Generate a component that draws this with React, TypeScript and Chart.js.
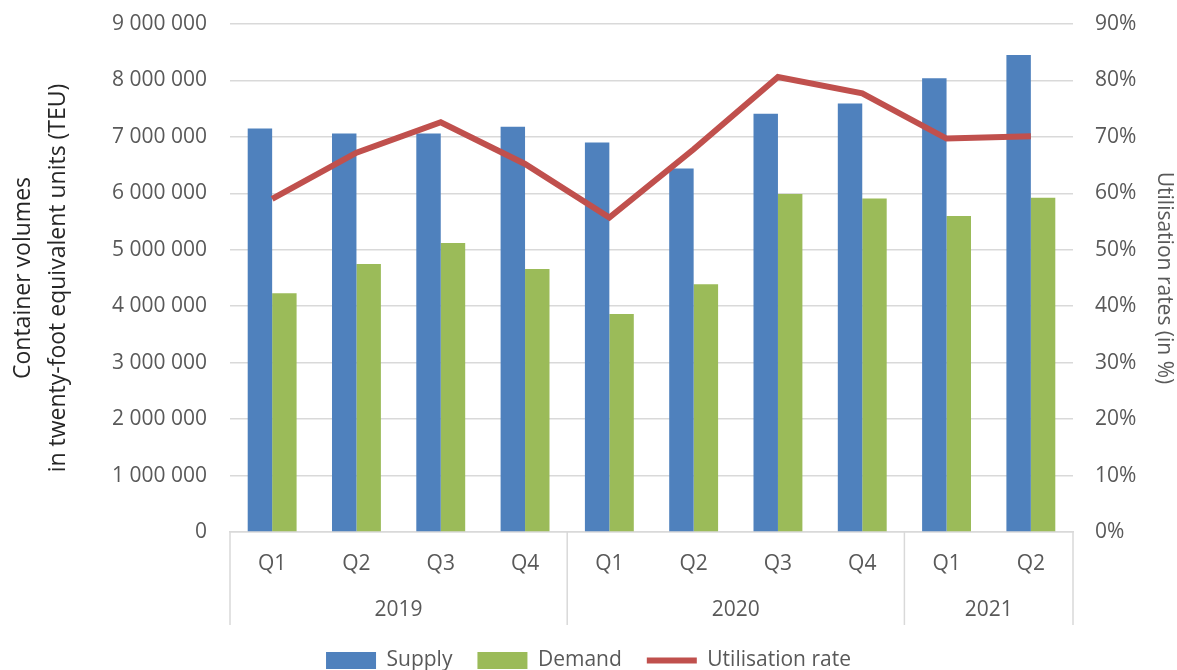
import React, { useEffect, useRef } from "react";
import { Chart, registerables } from "chart.js";

Chart.register(...registerables);

const quarters = ["Q1", "Q2", "Q3", "Q4", "Q1", "Q2", "Q3", "Q4", "Q1", "Q2"];
const years = ["2019", "2020", "2021"];
const yearSpans = [4, 4, 2];
const supply = [7150000, 7060000, 7060000, 7180000, 6900000, 6440000, 7410000, 7590000, 8040000, 8450000];
const demand = [4230000, 4750000, 5120000, 4660000, 3860000, 4390000, 5990000, 5910000, 5600000, 5920000];
const utilisation = [59.0, 67.2, 72.6, 65.2, 55.7, 67.8, 80.6, 77.7, 69.7, 70.1];

const FONT = "'Open Sans', 'DejaVu Sans', sans-serif";
const GREY = "#595959";
const GRID = "#d9d9d9";

const fmtSpace = (v: number) =>
  String(Math.round(v)).replace(/\B(?=(\d{3})+(?!\d))/g, " ");

const yearPlugin = {
  id: "yearGroups",
  afterDraw(chart: any) {
    const x = chart.scales.x;
    const area = chart.chartArea;
    const ctx = chart.ctx;
    const step = x.getPixelForValue(1) - x.getPixelForValue(0);
    const bottom = area.bottom + 93;
    ctx.save();
    ctx.strokeStyle = GRID;
    ctx.lineWidth = 1.5;
    let idx = 0;
    const bounds: number[] = [x.getPixelForValue(0) - step / 2];
    yearSpans.forEach((s) => {
      idx += s;
      bounds.push(x.getPixelForValue(idx - 1) + step / 2);
    });
    bounds.forEach((b) => {
      ctx.beginPath();
      ctx.moveTo(b, area.bottom);
      ctx.lineTo(b, bottom);
      ctx.stroke();
    });
    ctx.fillStyle = GREY;
    ctx.font = `21px ${FONT}`;
    ctx.textAlign = "center";
    ctx.textBaseline = "middle";
    years.forEach((y, i) => {
      ctx.fillText(y, (bounds[i] + bounds[i + 1]) / 2, area.bottom + 78);
    });
    ctx.restore();
  },
};

export default function App() {
  const ref = useRef<HTMLCanvasElement>(null);
  useEffect(() => {
    if (!ref.current) return;
    const chart = new Chart(ref.current, {
      type: "bar",
      data: {
        labels: quarters,
        datasets: [
          {
            label: "Supply",
            data: supply,
            backgroundColor: "#4f81bd",
            yAxisID: "y",
            order: 1,
            categoryPercentage: 0.58,
            barPercentage: 1,
          },
          {
            label: "Demand",
            data: demand,
            backgroundColor: "#9bbb59",
            yAxisID: "y",
            order: 1,
            categoryPercentage: 0.58,
            barPercentage: 1,
          },
          {
            type: "line",
            label: "Utilisation rate",
            data: utilisation,
            borderColor: "#c0504d",
            backgroundColor: "#c0504d",
            borderWidth: 6,
            pointRadius: 0,
            tension: 0,
            yAxisID: "y1",
            order: 0,
          } as any,
        ],
      },
      options: {
        responsive: false,
        animation: false,
        layout: { padding: { top: 24, bottom: -11, left: 0, right: 0 } },
        plugins: {
          tooltip: { enabled: false },
          legend: {
            position: "bottom",
            labels: {
              font: { family: FONT, size: 21 },
              color: GREY,
              usePointStyle: true,
              pointStyleWidth: 50,
              boxHeight: 17,
              padding: 25,
              sort: (a: any, b: any) => a.datasetIndex - b.datasetIndex,
              generateLabels: (c: any) => {
                const items = (Chart.defaults.plugins.legend.labels as any).generateLabels(c);
                items.forEach((it: any) => {
                  if (it.datasetIndex === 2) {
                    it.pointStyle = "line";
                    it.lineWidth = 6;
                    it.strokeStyle = "#c0504d";
                  } else {
                    it.pointStyle = "rect";
                    it.lineWidth = 0;
                  }
                });
                return items;
              },
            },
          },
        },
        scales: {
          x: {
            grid: { display: false, drawTicks: false },
            border: { display: true, color: GRID, width: 1.5 },
            ticks: {
              font: { family: FONT, size: 21 },
              color: GREY,
              padding: 19,
              maxRotation: 0,
            },
            afterFit: (s: any) => {
              s.height = 93;
            },
          },
          y: {
            position: "left",
            min: 0,
            max: 9000000,
            grid: { color: GRID, lineWidth: 1.5, drawTicks: false },
            border: { display: false },
            ticks: {
              stepSize: 1000000,
              font: { family: FONT, size: 21 },
              color: GREY,
              padding: 23,
              callback: (v: any) => fmtSpace(Number(v)),
            },
            title: {
              display: true,
              text: ["Container volumes", "in twenty-foot equivalent units (TEU)"],
              font: { family: FONT, size: 23, lineHeight: 1.52 },
              color: "#262626",
              padding: { top: 6, bottom: 0 },
            },
            afterFit: (s: any) => {
              s.width = 230;
              s.paddingTop = 12;
              s.paddingBottom = 12;
            },
          },
          y1: {
            position: "right",
            min: 0,
            max: 90,
            grid: { display: false, drawTicks: false },
            border: { display: false },
            ticks: {
              stepSize: 10,
              font: { family: FONT, size: 21 },
              color: GREY,
              padding: 22,
              callback: (v: any) => `${v}%`,
            },
            title: {
              display: true,
              text: "Utilisation rates (in %)",
              font: { family: FONT, size: 21 },
              color: GREY,
              padding: { top: 0, bottom: 0 },
            },
            afterFit: (s: any) => {
              s.width = 104;
              s.paddingTop = 12;
              s.paddingBottom = 12;
            },
          },
        },
      },
      plugins: [yearPlugin],
    });
    return () => chart.destroy();
  }, []);
  return (
    <div style={{ position: "fixed", left: 0, top: 0, width: 1177, height: 670, background: "#fff" }}>
      <canvas ref={ref} width={1177} height={670} />
    </div>
  );
}
